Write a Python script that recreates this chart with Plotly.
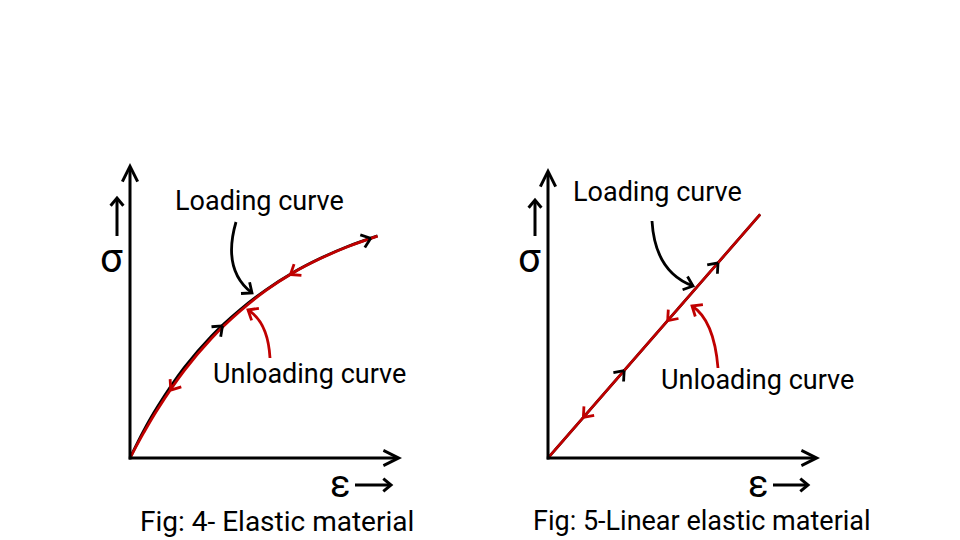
import numpy as np
import plotly.graph_objects as go

W, H = 960, 540

# ---------------- data (normalised strain / stress) ----------------
# Fig 4 - elastic material
elastic_strain = [0, 0.05, 0.1, 0.2, 0.3, 0.4, 0.5, 0.6, 0.7, 0.8, 0.91]
elastic_loading = [0, 0.092, 0.172, 0.307, 0.414, 0.499, 0.570, 0.629, 0.677, 0.717, 0.753]
elastic_unloading = [0, 0.085, 0.163, 0.297, 0.406, 0.494, 0.568, 0.628, 0.676, 0.716, 0.752]

# Fig 5 - linear elastic material
linear_strain = [0, 0.78]
linear_loading = [0, 0.84]
linear_unloading = [0, 0.84]

# direction markers along the curves (strain positions)
elastic_load_marks = [0.34, 0.885]
elastic_unload_marks = [0.59, 0.15]
linear_load_marks = [0.28, 0.625]
linear_unload_marks = [0.44, 0.13]

# texts
title_left = "Fig: 4- Elastic material"
title_right = "Fig: 5-Linear elastic material"
label_load = "Loading curve"
label_unload = "Unloading curve"
sym_stress = "σ"
sym_strain = "ε"

BLACK = "#000000"
RED = "#c00000"
FONT = "Roboto, sans-serif"

# subplot pixel geometry: (left, right, bottom, top) in screen pixels
LEFT_BOX = (130, 402, 458, 163)
RIGHT_BOX = (548, 820, 458, 168)


def dom(box):
    l, r, b, t = box
    return [l / W, r / W], [(H - b) / H, (H - t) / H]


fig = go.Figure()

# curves
fig.add_trace(go.Scatter(x=elastic_strain, y=elastic_loading, mode="lines",
                         line=dict(color=BLACK, width=2.8, shape="spline"),
                         xaxis="x", yaxis="y", hoverinfo="skip"))
fig.add_trace(go.Scatter(x=elastic_strain, y=elastic_unloading, mode="lines",
                         line=dict(color=RED, width=2.8, shape="spline"),
                         xaxis="x", yaxis="y", hoverinfo="skip"))
fig.add_trace(go.Scatter(x=linear_strain, y=linear_loading, mode="lines",
                         line=dict(color=BLACK, width=2.6),
                         xaxis="x2", yaxis="y2", hoverinfo="skip"))
fig.add_trace(go.Scatter(x=linear_strain, y=linear_unloading, mode="lines",
                         line=dict(color=RED, width=2.6),
                         xaxis="x2", yaxis="y2", hoverinfo="skip"))
# dummy for overlay axis
fig.add_trace(go.Scatter(x=[], y=[], xaxis="x3", yaxis="y3", hoverinfo="skip"))

annotations = []
shapes = []


def rot(ux, uy, a):
    c, s = np.cos(a), np.sin(a)
    return ux * c - uy * s, ux * s + uy * c


def chevrons(xs_data, ys_data, marks, box, xa, ya, color, forward):
    l, r, b, t = box
    pw, ph = r - l, b - t
    cx, cy = [], []
    for xm in marks:
        ym = float(np.interp(xm, xs_data, ys_data))
        dx = 0.01
        y2 = float(np.interp(xm + dx, xs_data, ys_data))
        ux, uy = dx * pw, -(y2 - ym) * ph  # screen direction
        n = np.hypot(ux, uy)
        ux, uy = ux / n, uy / n
        if not forward:
            ux, uy = -ux, -uy
        arm = 11
        for sgn in (1, -1):
            vx, vy = rot(ux, uy, sgn * np.radians(38))
            cx += [xm - arm * vx / pw, xm]
            cy += [ym + arm * vy / ph, ym]
            cx.append(None)
            cy.append(None)
    fig.add_trace(go.Scatter(x=cx, y=cy, mode="lines",
                             line=dict(color=color, width=2.8),
                             xaxis=xa, yaxis=ya, hoverinfo="skip"))


chevrons(elastic_strain, elastic_loading, elastic_load_marks, LEFT_BOX, "x", "y", BLACK, True)
chevrons(elastic_strain, elastic_unloading, elastic_unload_marks, LEFT_BOX, "x", "y", RED, False)
chevrons(linear_strain, linear_loading, linear_load_marks, RIGHT_BOX, "x2", "y2", BLACK, True)
chevrons(linear_strain, linear_unloading, linear_unload_marks, RIGHT_BOX, "x2", "y2", RED, False)

# axis arrows (in data coords of each subplot)
for xr, yr in (("x", "y"), ("x2", "y2")):
    annotations.append(dict(x=1.0, y=0, xref=xr, yref=yr, ax=-0.01, ay=0,
                            axref=xr, ayref=yr, text="", showarrow=True,
                            arrowhead=5, arrowsize=1.0, arrowwidth=3, arrowcolor=BLACK))
    annotations.append(dict(x=0, y=1.0, xref=xr, yref=yr, ax=0, ay=-0.01,
                            axref=xr, ayref=yr, text="", showarrow=True,
                            arrowhead=5, arrowsize=1.0, arrowwidth=3, arrowcolor=BLACK))


def head(p, ux, uy, color, arm=10, width=2.6):
    n = np.hypot(ux, uy)
    ux, uy = ux / n, uy / n
    pts = []
    for sgn in (1, -1):
        vx, vy = rot(ux, uy, sgn * np.radians(40))
        pts.append((p[0] - arm * vx, p[1] - arm * vy))
    path = f"M {pts[0][0]:.1f} {pts[0][1]:.1f} L {p[0]} {p[1]} L {pts[1][0]:.1f} {pts[1][1]:.1f}"
    shapes.append(dict(type="path", xref="x3", yref="y3", path=path,
                       line=dict(color=color, width=width)))


# curved pointer arrows (overlay pixel axes x3/y3)
def pointer(p0, c, p1, color):
    shapes.append(dict(type="path", xref="x3", yref="y3",
                       path=f"M {p0[0]} {p0[1]} Q {c[0]} {c[1]} {p1[0]} {p1[1]}",
                       line=dict(color=color, width=2.8)))
    head(p1, p1[0] - c[0], p1[1] - c[1], color, arm=11, width=2.8)


pointer((236, 222), (222, 270), (252, 293), BLACK)
pointer((270, 358), (268, 322), (248, 310), RED)
pointer((652, 221), (655, 272), (693, 286), BLACK)
pointer((718, 368), (714, 320), (692, 306), RED)


# small symbol arrows
def small_arrow(x0, y0, x1, y1):
    shapes.append(dict(type="line", xref="x3", yref="y3", x0=x0, y0=y0, x1=x1, y1=y1,
                       line=dict(color=BLACK, width=3)))
    head((x1, y1), x1 - x0, y1 - y0, BLACK, arm=10, width=3)


small_arrow(117, 236, 117, 198)
small_arrow(535, 236, 535, 200)
small_arrow(355, 485, 391, 485)
small_arrow(773, 485, 808, 485)


def text(x, y, s, size, anchor="left"):
    annotations.append(dict(x=x, y=y, xref="x3", yref="y3", text=s, showarrow=False,
                            xanchor=anchor, yanchor="middle",
                            font=dict(family=FONT, size=size, color=BLACK)))


text(173, 201, label_load, 27)
text(211, 374, label_unload, 27)
text(571, 192, label_load, 27)
text(659, 380, label_unload, 27)
text(138, 521, title_left, 28)
text(531, 521, title_right, 27)
text(111, 258, sym_stress, 40, "center")
text(529, 258, sym_stress, 40, "center")
text(340, 484, sym_strain, 38, "center")
text(758, 484, sym_strain, 38, "center")

xd1, yd1 = dom(LEFT_BOX)
xd2, yd2 = dom(RIGHT_BOX)
hidden = dict(visible=False, showgrid=False, zeroline=False, fixedrange=True)

fig.update_layout(
    width=W, height=H,
    margin=dict(l=0, r=0, t=0, b=0),
    paper_bgcolor="white", plot_bgcolor="rgba(0,0,0,0)",
    showlegend=False,
    xaxis=dict(domain=xd1, range=[0, 1], anchor="y", **hidden),
    yaxis=dict(domain=yd1, range=[0, 1], anchor="x", **hidden),
    xaxis2=dict(domain=xd2, range=[0, 1], anchor="y2", **hidden),
    yaxis2=dict(domain=yd2, range=[0, 1], anchor="x2", **hidden),
    xaxis3=dict(domain=[0, 1], range=[0, W], anchor="y3", **hidden),
    yaxis3=dict(domain=[0, 1], range=[H, 0], anchor="x3", **hidden),
    annotations=annotations,
    shapes=shapes,
)

fig.write_html("out.html", config={"displayModeBar": False},
               post_script="document.body.style.margin='0';document.body.style.overflow='hidden';")
